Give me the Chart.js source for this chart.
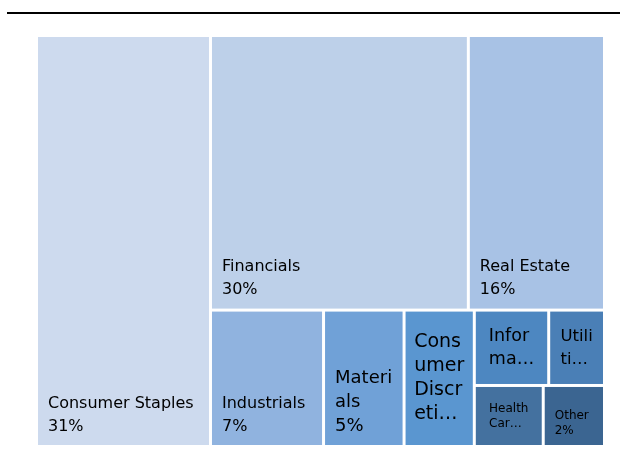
<!DOCTYPE html>
<html>
<head>
<meta charset="utf-8">
<style>
  html, body { margin: 0; padding: 0; background: #fff; }
  #wrap { width: 620px; height: 459px; }
</style>
<script src="https://cdn.jsdelivr.net/npm/chart.js@4.4.1/dist/chart.umd.min.js"></script>
</head>
<body>
<div id="wrap"><canvas id="treemap" width="620" height="459"></canvas></div>
<script>
const sectors = ['Consumer Staples', 'Financials', 'Real Estate', 'Industrials', 'Materials',
  'Consumer Discretionary', 'Information Technology', 'Utilities', 'Health Care', 'Other'];
const weights = [30.6, 30.3, 16.0, 6.6, 4.7, 4.1, 2.4, 1.8, 1.8, 1.6];
// strips in order, each one laid along the short side of the space still free
const strips = [[0], [1, 2], [3], [4], [5], [6, 7], [8], [9]];

// styling
const fills = ['#cddaee', '#bdd0e9', '#a8c2e5', '#90b3df', '#70a1d7',
  '#5a96d0', '#4d87c1', '#4a7fb6', '#44719f', '#3b6591'];
const labelSize = [16, 16, 16, 16, 18, 19, 17.5, 16.5, 12, 12];
const labelLead = [23, 23, 23, 23, 24, 24, 23, 23, 15, 15];
const GAP = 1.5;

function layout(w, h) {
  let x0 = 0, y0 = 0, x1 = 1, y1 = 1;
  let left = weights.reduce((a, b) => a + b, 0);
  const cells = [];
  strips.forEach(strip => {
    const s = strip.reduce((a, i) => a + weights[i], 0);
    if ((x1 - x0) * w >= (y1 - y0) * h) {
      const cx = x0 + (x1 - x0) * s / left;
      let yy = y0;
      strip.forEach(i => {
        const hh = (y1 - y0) * weights[i] / s;
        cells[i] = { x0: x0, x1: cx, y0: yy, y1: yy + hh };
        yy += hh;
      });
      x0 = cx;
    } else {
      const cy = y0 + (y1 - y0) * s / left;
      let xx = x0;
      strip.forEach(i => {
        const ww = (x1 - x0) * weights[i] / s;
        cells[i] = { x0: xx, x1: xx + ww, y0: y0, y1: cy };
        xx += ww;
      });
      y0 = cy;
    }
    left -= s;
  });
  return cells;
}

function wrapText(ctx, text, maxW) {
  const lines = [];
  text.split('\n').forEach(par => {
    let line = '';
    par.split(' ').forEach(word => {
      const tryLine = line ? line + ' ' + word : word;
      if (ctx.measureText(tryLine).width <= maxW) { line = tryLine; return; }
      if (line) lines.push(line);
      let w = word;
      while (w.length > 1 && ctx.measureText(w).width > maxW) {
        let k = w.length - 1;
        while (k > 1 && ctx.measureText(w.slice(0, k)).width > maxW) k--;
        lines.push(w.slice(0, k));
        w = w.slice(k);
      }
      line = w;
    });
    if (line) lines.push(line);
  });
  return lines;
}

const treemapCells = {
  id: 'treemapCells',
  afterDatasetsDraw(chart) {
    const { ctx, chartArea, scales: { x, y } } = chart;
    const cells = layout(chartArea.width, chartArea.height);
    ctx.save();
    cells.forEach((c, i) => {
      const l = x.getPixelForValue(c.x0) + GAP, r = x.getPixelForValue(c.x1) - GAP;
      const t = y.getPixelForValue(c.y0) + GAP, b = y.getPixelForValue(c.y1) - GAP;
      ctx.fillStyle = fills[i];
      ctx.fillRect(l, t, r - l, b - t);

      // label
      const size = labelSize[i], lead = labelLead[i];
      ctx.font = size + 'px "DejaVu Sans"';
      const maxW = (r - l) - 16;
      let lines = wrapText(ctx, sectors[i] + '\n' + Math.round(weights[i]) + '%', maxW);
      const maxLines = Math.max(1, Math.floor((b - t - 16) / lead));
      const cut = lines.length > maxLines;
      if (cut) {
        lines = lines.slice(0, maxLines);
        const last = lines[maxLines - 1];
        const room = Math.max(ctx.measureText(last).width, maxW * 0.7);
        let s = last.slice(0, -1);
        while (s.length > 1 && ctx.measureText(s + '…').width > room) s = s.slice(0, -1);
        lines[maxLines - 1] = s + '…';
      }
      ctx.fillStyle = '#000';
      ctx.textBaseline = 'middle';
      ctx.textAlign = 'left';
      let tx, firstY;
      if (cut) {
        const bw = Math.max(...lines.map(s => ctx.measureText(s).width));
        tx = (l + r) / 2 - bw / 2;
        firstY = (t + b) / 2 - (lines.length - 1) * lead / 2;
      } else {
        tx = l + 10;
        firstY = b - 7 - lead / 2 - (lines.length - 1) * lead;
      }
      lines.forEach((s, k) => ctx.fillText(s, tx, firstY + k * lead));
    });
    ctx.restore();
  }
};

const topRule = {
  id: 'topRule',
  beforeDraw(chart) {
    const { ctx } = chart;
    ctx.save();
    ctx.fillStyle = '#fff';
    ctx.fillRect(0, 0, chart.width, chart.height);
    ctx.fillStyle = '#000';
    ctx.fillRect(7, 12, chart.width - 7, 2);
    ctx.restore();
  }
};

new Chart(document.getElementById('treemap'), {
  type: 'scatter',
  data: { datasets: [{ label: 'Sectors', data: [], pointRadius: 0 }] },
  options: {
    responsive: false,
    animation: false,
    devicePixelRatio: 1,
    layout: { padding: { left: 36.5, right: 15.5, top: 35.5, bottom: 12.5 } },
    scales: {
      x: { type: 'linear', min: 0, max: 1, display: false },
      y: { type: 'linear', min: 0, max: 1, reverse: true, display: false }
    },
    plugins: { legend: { display: false }, tooltip: { enabled: false } }
  },
  plugins: [topRule, treemapCells]
});
</script>
</body>
</html>
